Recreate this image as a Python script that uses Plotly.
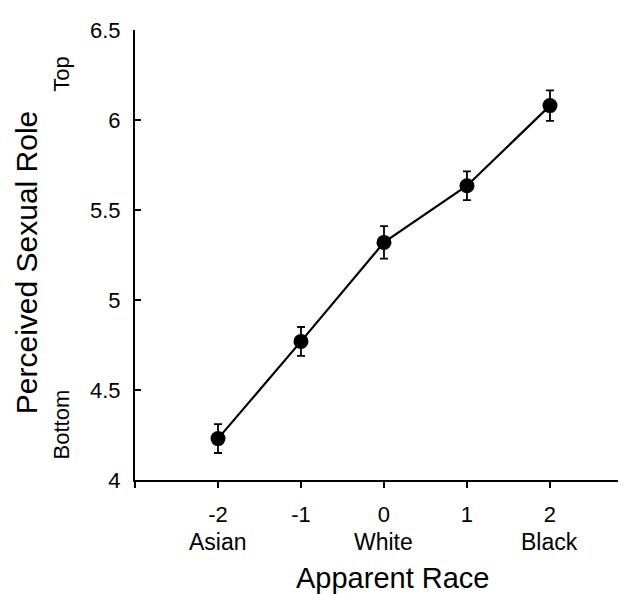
import plotly.graph_objects as go

race_x = [-2, -1, 0, 1, 2]
role_mean = [4.23, 4.77, 5.32, 5.635, 6.08]
role_err = [0.08, 0.08, 0.09, 0.08, 0.085]
cat_pos = [-2, 0, 2]
cat_labels = ["Asian", "White", "Black"]
x_ticks = [-3, -2, -1, 0, 1, 2]
x_ticktext = ["", "-2", "-1", "0", "1", "2"]
y_ticks = [4, 4.5, 5, 5.5, 6, 6.5]
y_ticktext = ["4", "4.5", "5", "5.5", "6", "6.5"]

FONT = "Liberation Sans, Arial, sans-serif"

fig = go.Figure()
fig.add_trace(go.Scatter(
    x=race_x, y=role_mean, mode="lines+markers",
    line=dict(color="black", width=2.2),
    marker=dict(color="black", size=15),
    error_y=dict(type="data", array=role_err, color="black", thickness=1.8, width=4),
    showlegend=False, cliponaxis=False,
))

annotations = []
for p, t in zip(cat_pos, cat_labels):
    annotations.append(dict(x=p, y=-0.138, xref="x", yref="paper", text=t, showarrow=False,
                            font=dict(size=23, family=FONT, color="black"), yanchor="middle"))
annotations.append(dict(x=0.1, y=-0.218, xref="x", yref="paper", text="Apparent Race", showarrow=False,
                        font=dict(size=29, family=FONT, color="black"), yanchor="middle"))
annotations.append(dict(x=-0.222, y=0.484, xref="paper", yref="paper", text="Perceived Sexual Role",
                        textangle=-90, showarrow=False,
                        font=dict(size=30, family=FONT, color="black"), xanchor="center", yanchor="middle"))
annotations.append(dict(x=-0.149, y=6.256, xref="paper", yref="y", text="Top", textangle=-90,
                        showarrow=False, font=dict(size=22, family=FONT, color="black"),
                        xanchor="center", yanchor="middle"))
annotations.append(dict(x=-0.149, y=4.308, xref="paper", yref="y", text="Bottom", textangle=-90,
                        showarrow=False, font=dict(size=22, family=FONT, color="black"),
                        xanchor="center", yanchor="middle"))

fig.update_layout(
    width=626, height=594,
    margin=dict(l=127, r=8, t=22, b=122),
    plot_bgcolor="white", paper_bgcolor="white",
    font=dict(family=FONT, size=22, color="black"),
    annotations=annotations,
    xaxis=dict(range=[-3, 2.916], tickvals=x_ticks, ticktext=x_ticktext, ticks="outside",
               ticklen=6, tickwidth=1.8, tickcolor="black", showline=True, linecolor="black",
               linewidth=2, showgrid=False, zeroline=False, ticklabelstandoff=8,
               tickfont=dict(size=22)),
    yaxis=dict(range=[4, 6.5], tickvals=y_ticks, ticktext=y_ticktext, ticks="inside",
               ticklen=6, tickwidth=1.8, tickcolor="black", showline=True, linecolor="black",
               linewidth=2, showgrid=False, zeroline=False, ticklabelstandoff=8,
               tickfont=dict(size=22)),
)

fig.write_html("out.html")
